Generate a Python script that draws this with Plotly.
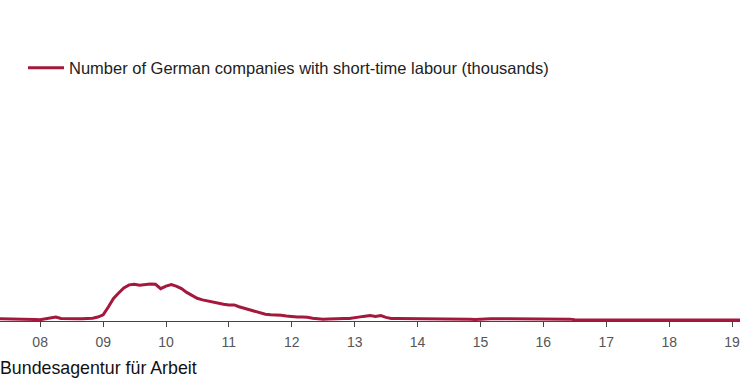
import pandas as pd
import plotly.graph_objects as go

# Monthly observations, May 2007 - Mar 2019 (thousands of companies)
months = pd.date_range("2007-05-01", "2019-03-01", freq="MS")

values = (
    # 2007 May-Dec
    [2.8, 2.8, 2.8, 2.7, 2.7, 2.7, 2.4, 1.6]
    # 2008
    + [1.2, 2.5, 4.6, 5.4, 3.2, 2.7, 2.7, 2.7, 2.8, 3.0, 3.6, 5.5]
    # 2009
    + [9.0, 22.0, 35.0, 44.0, 52.0, 57.0, 58.0, 56.5, 57.5, 58.5, 58.0, 51.0]
    # 2010
    + [55.0, 57.6, 55.0, 51.0, 45.0, 39.5, 35.5, 33.0, 31.0, 28.8, 27.5, 26.0]
    # 2011
    + [25.0, 25.0, 22.0, 19.5, 17.0, 14.0, 12.0, 10.0, 9.2, 9.0, 8.5, 7.2]
    # 2012
    + [6.2, 5.8, 5.5, 5.2, 3.5, 2.3, 2.2, 2.4, 3.0, 3.2, 3.2, 3.2]
    # 2013
    + [4.0, 5.8, 6.8, 7.8, 6.4, 7.8, 5.0, 3.3, 3.2, 3.2, 3.2, 3.2]
    # 2014
    + [3.2, 3.1, 3.0, 3.0, 2.9, 2.9, 2.9, 2.9, 2.8, 2.6, 2.2, 1.6]
    # 2015
    + [2.2, 2.8, 2.8, 2.7, 2.7, 2.7, 2.7, 3.2, 3.4, 3.3, 2.8, 2.7]
    # 2016
    + [2.7, 2.8, 2.8, 2.7, 2.7, 2.2, 1.4, 1.0, 0.9, 0.9, 0.9, 0.9]
    # 2017
    + [0.9, 0.9, 0.9, 0.8, 0.8, 0.8, 0.8, 0.8, 0.8, 0.8, 0.8, 0.8]
    # 2018
    + [0.8, 0.8, 0.8, 0.8, 0.8, 0.8, 0.8, 0.8, 0.8, 0.8, 0.8, 0.8]
    # 2019 Jan-Mar
    + [0.8, 0.8, 0.8]
)

series_name = "Number of German companies with short-time labour (thousands)"
source_text = "Bundesagentur für Arbeit"

tick_years = list(range(2008, 2020))
tick_vals = [f"{y}-01-01" for y in tick_years]
tick_text = [f"{y % 100:02d}" for y in tick_years]

LINE_COLOR = "#A3183B"
FONT = "Liberation Sans, Arial, sans-serif"

fig = go.Figure()
fig.add_trace(
    go.Scatter(
        x=months,
        y=values,
        mode="lines",
        name=series_name,
        line=dict(color=LINE_COLOR, width=3),
        showlegend=True,
        hoverinfo="skip",
    )
)

plot_h = 325
y0 = -7.2
y1 = y0 + plot_h * 1.6

fig.update_layout(
    width=740,
    height=389,
    margin=dict(l=0, r=0, t=0, b=389 - plot_h, pad=0, autoexpand=False),
    paper_bgcolor="white",
    plot_bgcolor="white",
    font=dict(family=FONT, color="#222"),
    showlegend=True,
    legend=dict(
        orientation="h",
        x=23 / 740,
        xanchor="left",
        y=(plot_h - 68) / plot_h,
        yanchor="middle",
        font=dict(size=16.5, color="#222", family=FONT),
        bgcolor="rgba(0,0,0,0)",
        itemwidth=36,
    ),
    xaxis=dict(
        type="date",
        range=["2007-05-13", "2019-02-16"],
        anchor="free",
        position=4.5 / plot_h,
        automargin=False,
        showline=True,
        linecolor="#444",
        linewidth=1,
        ticks="outside",
        ticklen=5,
        tickcolor="#444",
        tickvals=tick_vals,
        ticktext=tick_text,
        tickfont=dict(size=14, color="#555", family=FONT),
        ticklabelstandoff=4,
        ticklabeloverflow="allow",
        showgrid=False,
        zeroline=False,
    ),
    yaxis=dict(
        range=[y0, y1],
        visible=False,
        automargin=False,
        showgrid=False,
        zeroline=False,
    ),
    annotations=[
        dict(
            text=source_text,
            xref="paper",
            yref="paper",
            x=-0.003,
            y=(plot_h - 368) / plot_h,
            xanchor="left",
            yanchor="middle",
            showarrow=False,
            font=dict(size=17.8, color="#111", family=FONT),
        )
    ],
)

fig.write_html(
    "out.html",
    config={"displayModeBar": False},
    post_script="document.body.style.margin='0';document.body.style.padding='0';",
)
